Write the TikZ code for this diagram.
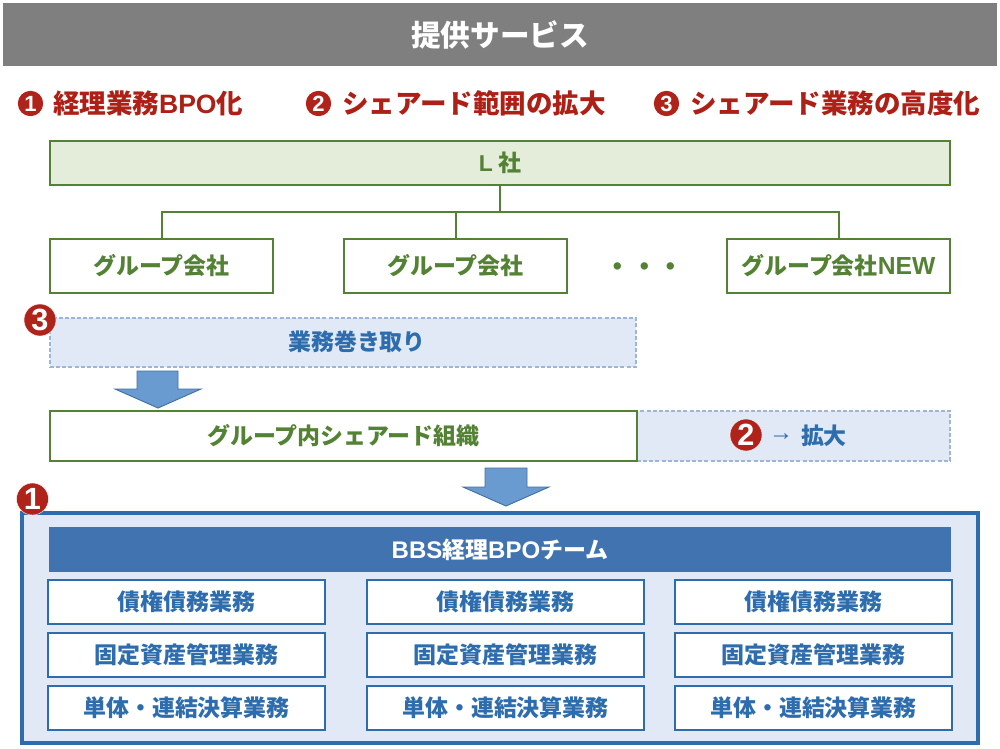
\documentclass[tikz,border=0pt]{standalone}
\usepackage{fontspec}
\setmainfont{Noto Sans CJK JP}
\newfontfamily\lat{Liberation Sans}
\definecolor{hdrgray}{HTML}{7F7F7F}
\definecolor{redtxt}{HTML}{AE1F16}
\definecolor{badge}{HTML}{B0231A}
\definecolor{grn}{HTML}{548235}
\definecolor{grnfill}{HTML}{E3EDD9}
\definecolor{blu}{HTML}{2E6DAD}
\definecolor{bluefill}{HTML}{E0E9F5}
\definecolor{teambar}{HTML}{4073B0}
\definecolor{dashc}{HTML}{9DB5D6}
\definecolor{arrfill}{HTML}{6A9BD0}
\definecolor{arrline}{HTML}{41719C}
\newcommand\fpx[1]{\fontsize{#1}{#1}\selectfont\bfseries}
\newcommand\bx[7]{\node[#2,minimum width={(#5-#3)*0.75pt},minimum height={(#6-#4)*0.75pt}] (#1) at ({(#3+#5)/2},{(#4+#6)/2}) {#7};}
\tikzset{
  x=0.75pt,y=-0.75pt,
  every node/.style={inner sep=0pt,outer sep=0pt,align=center},
  titlebox/.style={fill=hdrgray,text=white,font=\fpx{22.2pt}},
  headtxt/.style={anchor=west,text=redtxt,font=\fpx{19.9pt}},
  rootbox/.style={draw=grn,line width=1.5pt,fill=grnfill,text=grn,font=\fpx{17.2pt}},
  grpbox/.style={draw=grn,line width=1.5pt,fill=white,text=grn,font=\fpx{17.2pt}},
  dashbox/.style={draw=dashc,line width=0.9pt,dash pattern=on 3pt off 1.6pt,fill=bluefill},
  bluetxt/.style={text=blu,font=\fpx{17.2pt}},
  outerbox/.style={draw=blu,line width=3pt,fill=bluefill},
  teambox/.style={fill=teambar,text=white,font=\fpx{17.2pt}},
  itembox/.style={draw=blu,line width=1.5pt,fill=white,text=blu,font=\fpx{17.2pt}},
  link/.style={draw=grn,line width=1.5pt},
  blockarrow/.style={draw=arrline,line width=0.7pt,fill=arrfill,line join=miter},
  numbig/.style={circle,fill=badge,draw=white,line width=0.3pt,text=white,minimum size=24pt,font=\lat\fontsize{23pt}{23pt}\selectfont\bfseries},
  numsmall/.style={circle,fill=badge,text=white,minimum size=19pt,font=\lat\fontsize{16.5pt}{16.5pt}\selectfont\bfseries},
  dotstxt/.style={text=grn,font=\fpx{19.9pt}}
}
\begin{document}
\begin{tikzpicture}
\useasboundingbox (0,0) rectangle (1000,749);
\fill[white] (0,0) rectangle (1000,749);
% title
\bx{title}{titlebox}{3}{3}{997}{66}{提供サービス}
% heading row
\node[numsmall] (n1) at (30.5,103.5) {1};
\node[headtxt] (h1) at (53,103.5) {経理業務{\lat BPO}化};
\node[numsmall] (n2) at (318.5,103.5) {2};
\node[headtxt] (h2) at (342,103.5) {シェアード範囲の拡大};
\node[numsmall] (n3) at (666.5,103.5) {3};
\node[headtxt] (h3) at (690,103.5) {シェアード業務の高度化};
% company tree
\bx{root}{rootbox}{50}{141}{950}{185}{{\lat L} 社}
\bx{g1}{grpbox}{50}{239}{273}{293}{グループ会社}
\bx{g2}{grpbox}{344}{239}{567}{293}{グループ会社}
\bx{g3}{grpbox}{727}{239}{950}{293}{グループ会社{\lat\fontsize{18.5pt}{18.5pt}\selectfont NEW}}
\node[dotstxt] (dots) at (644.5,270) {・・・};
\coordinate (bus) at (500,212);
\draw[link] (root.south) -- (bus);
\draw[link] (g1.north) |- (bus);
\draw[link] (g2.north) |- (bus);
\draw[link] (g3.north) |- (bus);
% work take-up
\bx{take}{dashbox}{50}{318}{636}{367}{}
\node[bluetxt] (taket) at (357,342) {業務巻き取り};
\node[numbig] (b3) at (40,320) {3};
\draw[blockarrow] (137,371) -- (178,371) -- (178,389) -- (201,389) -- (158,408) -- (115,389) -- (137,389) -- cycle;
% shared org
\bx{wide}{dashbox}{637}{411}{950}{461}{}
\bx{org}{grpbox}{50}{411}{637}{461}{グループ内シェアード組織}
\node[numbig] (b2) at (746,435) {2};
\node[bluetxt,anchor=west] (widet) at (769,435.5) {\raisebox{2.5pt}{\lat\mdseries\fontsize{18pt}{18pt}\selectfont →}\hspace{6pt}拡大};
\draw[blockarrow] (485,468) -- (527,468) -- (527,487) -- (549,487) -- (506,506) -- (463,487) -- (485,487) -- cycle;
% BPO team
\bx{outer}{outerbox}{22}{513}{978}{743}{}
\node[numbig] (b1) at (32.5,499) {1};
\bx{team}{teambox}{49}{527}{951}{572}{{\lat\fontsize{18pt}{18pt}\selectfont BBS}経理{\lat\fontsize{18pt}{18pt}\selectfont BPO}チーム}
\bx{a1}{itembox}{48}{580}{325}{624}{債権債務業務}
\bx{a2}{itembox}{367}{580}{644}{624}{債権債務業務}
\bx{a3}{itembox}{675}{580}{952}{624}{債権債務業務}
\bx{b1x}{itembox}{48}{633}{325}{677}{固定資産管理業務}
\bx{b2x}{itembox}{367}{633}{644}{677}{固定資産管理業務}
\bx{b3x}{itembox}{675}{633}{952}{677}{固定資産管理業務}
\bx{c1}{itembox}{48}{686}{325}{730}{単体・連結決算業務}
\bx{c2}{itembox}{367}{686}{644}{730}{単体・連結決算業務}
\bx{c3}{itembox}{675}{686}{952}{730}{単体・連結決算業務}
\end{tikzpicture}
\end{document}
